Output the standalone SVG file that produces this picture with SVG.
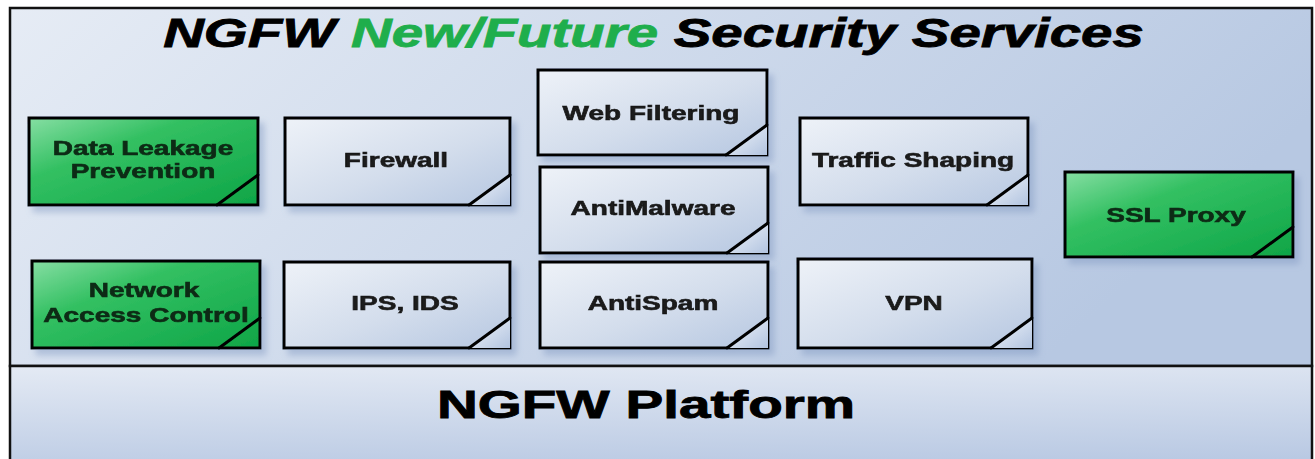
<svg xmlns="http://www.w3.org/2000/svg" width="1315" height="459" viewBox="0 0 1315 459">
  <defs>
    <linearGradient id="panelGrad" x1="0" y1="0" x2="1" y2="0.3">
      <stop offset="0" stop-color="#e6ecf5"/>
      <stop offset="1" stop-color="#b7c8e2"/>
    </linearGradient>
    <linearGradient id="platformGrad" x1="0" y1="0" x2="0.2" y2="1">
      <stop offset="0" stop-color="#e4eaf4"/>
      <stop offset="1" stop-color="#b9c9e3"/>
    </linearGradient>
    <linearGradient id="grayGrad" x1="0" y1="0" x2="1" y2="1">
      <stop offset="0" stop-color="#eef2f8"/>
      <stop offset="0.55" stop-color="#d3ddec"/>
      <stop offset="1" stop-color="#b6c7e1"/>
    </linearGradient>
    <linearGradient id="greenGrad" x1="0" y1="0" x2="1" y2="1">
      <stop offset="0" stop-color="#86dea3"/>
      <stop offset="0.35" stop-color="#33c062"/>
      <stop offset="1" stop-color="#0ea547"/>
    </linearGradient>
    <linearGradient id="foldGray" x1="0" y1="0" x2="1" y2="1">
      <stop offset="0" stop-color="#f4f7fb"/>
      <stop offset="1" stop-color="#b2c4e0"/>
    </linearGradient>
    <filter id="shadow" x="-10%" y="-10%" width="130%" height="140%">
      <feDropShadow dx="5" dy="6" stdDeviation="3" flood-color="#7f96bf" flood-opacity="0.45"/>
    </filter>
  </defs>
  <style>
    .frame { stroke: #111; stroke-width: 2.5; }
    .box { stroke: #000; stroke-width: 3; }
    .gray { fill: url(#grayGrad); }
    .green { fill: url(#greenGrad); }
    .fold { stroke: #000; stroke-width: 3; stroke-linecap: round; }
    .label { font-family: "Liberation Sans", Arial, sans-serif; font-weight: bold; font-size: 20px; fill: #1a1a1a; stroke: #1a1a1a; stroke-width: 0.6; text-anchor: middle; }
    .glabel { fill: #0d2a14; stroke: #0d2a14; }
    .title { font-family: "Liberation Sans", Arial, sans-serif; font-weight: bold; font-style: italic; font-size: 40px; fill: #000; stroke: #000; stroke-width: 0.8; text-anchor: middle; }
    .green-word { fill: #1fae4c; stroke: #1fae4c; }
    .platform { font-family: "Liberation Sans", Arial, sans-serif; font-weight: bold; font-size: 38px; fill: #000; stroke: #000; stroke-width: 0.8; text-anchor: middle; }
  </style>

  <!-- white page -->
  <rect x="0" y="0" width="1315" height="459" fill="#ffffff"/>

  <!-- services panel and platform band -->
  <g id="services-panel">
    <rect x="10" y="8" width="1302" height="358" fill="url(#panelGrad)" class="frame"/>
    <text class="title" transform="translate(653.5,47) scale(1.41,1)">NGFW <tspan class="green-word">New/Future</tspan> Security Services</text>
  </g>
  <g id="platform">
    <rect x="10" y="366" width="1302" height="110" fill="url(#platformGrad)" class="frame"/>
    <text class="platform" transform="translate(646,418) scale(1.49,1)">NGFW Platform</text>
  </g>

  <!-- service modules: box, folded corner, label (labels drawn wide at 1.4x) -->
  <g id="dlp" filter="url(#shadow)">
    <rect x="29" y="118" width="229" height="87" class="box green"/>
    <line x1="217" y1="205" x2="258" y2="175" class="fold"/>
    <text class="label glabel" transform="translate(143,155) scale(1.4,1)">Data Leakage</text>
    <text class="label glabel" transform="translate(143,178) scale(1.4,1)">Prevention</text>
  </g>

  <g id="nac" filter="url(#shadow)">
    <rect x="32" y="261" width="228" height="87" class="box green"/>
    <line x1="219" y1="348" x2="260" y2="318" class="fold"/>
    <text class="label glabel" transform="translate(144,297) scale(1.4,1)">Network</text>
    <text class="label glabel" transform="translate(146,322) scale(1.4,1)">Access Control</text>
  </g>

  <g id="firewall" filter="url(#shadow)">
    <rect x="285" y="118" width="225" height="87" class="box gray"/>
    <polygon points="469,205 510,175 510,205" fill="url(#foldGray)"/>
    <line x1="469" y1="205" x2="510" y2="175" class="fold"/>
    <text class="label" transform="translate(396,167) scale(1.4,1)">Firewall</text>
  </g>

  <g id="ips-ids" filter="url(#shadow)">
    <rect x="284" y="262" width="226" height="86" class="box gray"/>
    <polygon points="469,348 510,318 510,348" fill="url(#foldGray)"/>
    <line x1="469" y1="348" x2="510" y2="318" class="fold"/>
    <text class="label" transform="translate(405,310) scale(1.4,1)">IPS, IDS</text>
  </g>

  <g id="web-filtering" filter="url(#shadow)">
    <rect x="538" y="70" width="229" height="85" class="box gray"/>
    <polygon points="726,155 767,125 767,155" fill="url(#foldGray)"/>
    <line x1="726" y1="155" x2="767" y2="125" class="fold"/>
    <text class="label" transform="translate(651,120) scale(1.4,1)">Web Filtering</text>
  </g>

  <g id="antimalware" filter="url(#shadow)">
    <rect x="540" y="167" width="228" height="86" class="box gray"/>
    <polygon points="727,253 768,223 768,253" fill="url(#foldGray)"/>
    <line x1="727" y1="253" x2="768" y2="223" class="fold"/>
    <text class="label" transform="translate(653,215) scale(1.4,1)">AntiMalware</text>
  </g>

  <g id="antispam" filter="url(#shadow)">
    <rect x="540" y="262" width="228" height="86" class="box gray"/>
    <polygon points="727,348 768,318 768,348" fill="url(#foldGray)"/>
    <line x1="727" y1="348" x2="768" y2="318" class="fold"/>
    <text class="label" transform="translate(653,310) scale(1.4,1)">AntiSpam</text>
  </g>

  <g id="traffic-shaping" filter="url(#shadow)">
    <rect x="800" y="118" width="228" height="87" class="box gray"/>
    <polygon points="987,205 1028,175 1028,205" fill="url(#foldGray)"/>
    <line x1="987" y1="205" x2="1028" y2="175" class="fold"/>
    <text class="label" transform="translate(913,167) scale(1.4,1)">Traffic Shaping</text>
  </g>

  <g id="vpn" filter="url(#shadow)">
    <rect x="798" y="259" width="234" height="89" class="box gray"/>
    <polygon points="991,348 1032,318 1032,348" fill="url(#foldGray)"/>
    <line x1="991" y1="348" x2="1032" y2="318" class="fold"/>
    <text class="label" transform="translate(914,310) scale(1.4,1)">VPN</text>
  </g>

  <g id="ssl-proxy" filter="url(#shadow)">
    <rect x="1065" y="172" width="228" height="85" class="box green"/>
    <line x1="1252" y1="257" x2="1293" y2="227" class="fold"/>
    <text class="label glabel" transform="translate(1176,222) scale(1.4,1)">SSL Proxy</text>
  </g>

  <!-- no connectors are drawn between modules -->
  <g id="connectors"/>
</svg>
